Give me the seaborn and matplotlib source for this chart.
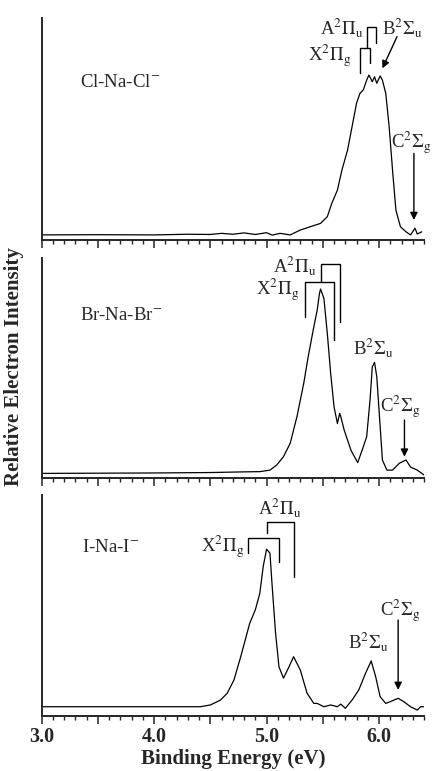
import matplotlib
matplotlib.use("Agg")
import matplotlib.pyplot as plt
from matplotlib.ticker import MultipleLocator, FuncFormatter
import seaborn as sns
import pandas as pd

# spectra (binding energy in eV, relative intensity)
cl_ev = [3.00, 3.50, 4.00, 4.30, 4.50, 4.60, 4.70, 4.80, 4.90, 5.00, 5.05, 5.12,
         5.21, 5.30, 5.39, 5.48, 5.54, 5.58, 5.63, 5.67, 5.72, 5.76, 5.80, 5.83,
         5.86, 5.89, 5.91, 5.94, 5.96, 5.98, 6.01, 6.03, 6.06, 6.09, 6.12, 6.15,
         6.19, 6.24, 6.28, 6.32, 6.34, 6.38]
cl_int = [0.023, 0.024, 0.023, 0.026, 0.025, 0.030, 0.026, 0.032, 0.025, 0.033,
          0.022, 0.030, 0.023, 0.045, 0.060, 0.075, 0.105, 0.165, 0.225, 0.315,
          0.405, 0.510, 0.616, 0.660, 0.676, 0.720, 0.743, 0.713, 0.735, 0.706,
          0.739, 0.720, 0.660, 0.510, 0.315, 0.135, 0.060, 0.037, 0.023, 0.053,
          0.027, 0.037]

br_ev = [3.00, 3.50, 4.00, 4.50, 4.80, 4.94, 5.03, 5.09, 5.15, 5.21, 5.27, 5.33,
         5.37, 5.42, 5.45, 5.47, 5.48, 5.51, 5.54, 5.57, 5.60, 5.63, 5.65, 5.66,
         5.69, 5.75, 5.81, 5.85, 5.89, 5.92, 5.94, 5.96, 5.98, 6.00, 6.03, 6.07,
         6.12, 6.18, 6.24, 6.28, 6.34, 6.40]
br_int = [0.021, 0.022, 0.023, 0.025, 0.028, 0.029, 0.036, 0.059, 0.097, 0.158,
          0.279, 0.430, 0.552, 0.688, 0.764, 0.839, 0.860, 0.817, 0.658, 0.476,
          0.324, 0.248, 0.294, 0.279, 0.218, 0.127, 0.070, 0.127, 0.188, 0.355,
          0.506, 0.526, 0.461, 0.309, 0.082, 0.036, 0.036, 0.067, 0.082, 0.050,
          0.036, 0.014]

i_ev = [3.00, 3.50, 4.00, 4.41, 4.50, 4.59, 4.65, 4.71, 4.77, 4.85, 4.90, 4.94,
        4.97, 5.00, 5.03, 5.05, 5.08, 5.11, 5.15, 5.20, 5.24, 5.30, 5.36, 5.42,
        5.45, 5.51, 5.57, 5.63, 5.66, 5.70, 5.76, 5.82, 5.88, 5.93, 5.97, 6.01,
        6.06, 6.10, 6.17, 6.22, 6.28, 6.34, 6.37, 6.40]
i_int = [0.042, 0.042, 0.042, 0.042, 0.050, 0.072, 0.103, 0.163, 0.268, 0.419,
         0.480, 0.555, 0.676, 0.754, 0.736, 0.585, 0.374, 0.223, 0.171, 0.223,
         0.268, 0.208, 0.103, 0.057, 0.057, 0.042, 0.050, 0.042, 0.054, 0.035,
         0.072, 0.118, 0.193, 0.249, 0.178, 0.087, 0.057, 0.065, 0.080, 0.065,
         0.042, 0.027, 0.042, 0.042]

names = ["Cl-Na-Cl$^{-}$", "Br-Na-Br$^{-}$", "I-Na-I$^{-}$"]
# spin-orbit components marked with brackets (eV)
x_states = [(5.83, 5.92), (5.345, 5.597), (4.834, 5.107)]
a_states = [(5.89, 5.97), (5.484, 5.65), (5.003, 5.24)]
b_state = [6.03, None, None]
c_state = [6.31, 6.226, 6.17]

sns.set_style("ticks")
plt.rcParams["font.family"] = ["Liberation Serif", "DejaVu Serif"]
plt.rcParams["mathtext.fontset"] = "stix"

fig = plt.figure(figsize=(4.34, 7.71), dpi=100)
boxes = [[0.096, 0.6887, 0.881, 0.288],
         [0.096, 0.380, 0.881, 0.285],
         [0.096, 0.0713, 0.881, 0.287]]
axes = [fig.add_axes(b) for b in boxes]

spectra = [(cl_ev, cl_int), (br_ev, br_int), (i_ev, i_int)]
for ax, (ev, inten) in zip(axes, spectra):
    df = pd.DataFrame({"ev": ev, "intensity": inten})
    sns.lineplot(data=df, x="ev", y="intensity", ax=ax, color="black",
                 lw=0.9, estimator=None)
    ax.set_xlim(3.0, 6.4)
    ax.set_ylim(0, 1)
    ax.set_xlabel("")
    ax.set_ylabel("")
    ax.set_yticks([])
    for s in ["top", "right"]:
        ax.spines[s].set_visible(False)
    ax.spines["left"].set_linewidth(1.4)
    ax.spines["bottom"].set_linewidth(1.4)
    ax.xaxis.set_major_locator(MultipleLocator(0.5))
    ax.xaxis.set_minor_locator(MultipleLocator(0.1))
    ax.tick_params(axis="x", which="major", length=5.5, width=1.1,
                   direction="out", pad=2.5)
    ax.tick_params(axis="x", which="minor", length=3.2, width=1.0,
                   direction="out")
    ax.xaxis.set_major_formatter(FuncFormatter(lambda v, p: ""))

axes[2].xaxis.set_major_formatter(FuncFormatter(
    lambda v, p: f"{v:.1f}" if abs(v - round(v)) < 1e-6 else ""))
axes[2].tick_params(axis="x", labelsize=14.5)
for lab in axes[2].get_xticklabels():
    lab.set_fontweight("bold")
axes[2].set_xlabel("Binding Energy (eV)", fontsize=15, fontweight="bold",
                   labelpad=1)

fig.text(0.033, 0.524, "Relative Electron Intensity", rotation=90,
         fontsize=15, fontweight="bold", ha="center", va="center")

fs = 13.5
lw_b = 1.0

def bracket(ax, xs, top, bl, br):
    ax.plot([xs[0], xs[0], xs[1], xs[1]], [bl, top, top, br],
            color="black", lw=lw_b, solid_joinstyle="miter")

def arrow(ax, x0, y0, x1, y1):
    ax.annotate("", xy=(x1, y1), xytext=(x0, y0),
                arrowprops=dict(arrowstyle="-|>", color="black", lw=1.0,
                                mutation_scale=11, shrinkA=0, shrinkB=0))

# Cl panel
ax = axes[0]
ax.text(3.34, 0.71, names[0], fontsize=fs, ha="left", va="center")
bracket(ax, x_states[0], 0.863, 0.754, 0.797)
bracket(ax, a_states[0], 0.961, 0.863, 0.886)
ax.text(5.86, 0.955, r"A$^2\Pi_\mathrm{u}$", fontsize=fs, ha="right", va="center")
ax.text(5.75, 0.83, r"X$^2\Pi_\mathrm{g}$", fontsize=fs, ha="right", va="center")
ax.text(6.03, 0.955, r"B$^2\Sigma_\mathrm{u}$", fontsize=fs, ha="left", va="center")
arrow(ax, 6.16, 0.916, b_state[0], 0.773)
ax.text(6.465, 0.437, r"C$^2\Sigma_\mathrm{g}$", fontsize=fs, ha="right", va="center")
arrow(ax, c_state[0], 0.39, c_state[0], 0.09)

# Br panel
ax = axes[1]
ax.text(3.34, 0.738, names[1], fontsize=fs, ha="left", va="center")
bracket(ax, x_states[1], 0.892, 0.733, 0.627)
bracket(ax, a_states[1], 0.976, 0.892, 0.710)
ax.text(5.44, 0.968, r"A$^2\Pi_\mathrm{u}$", fontsize=fs, ha="right", va="center")
ax.text(5.29, 0.855, r"X$^2\Pi_\mathrm{g}$", fontsize=fs, ha="right", va="center")
ax.text(5.772, 0.595, r"B$^2\Sigma_\mathrm{u}$", fontsize=fs, ha="left", va="center")
ax.text(6.012, 0.323, r"C$^2\Sigma_\mathrm{g}$", fontsize=fs, ha="left", va="center")
arrow(ax, c_state[1], 0.264, c_state[1], 0.097)

# I panel
ax = axes[2]
ax.text(3.356, 0.762, names[2], fontsize=fs, ha="left", va="center")
bracket(ax, x_states[2], 0.804, 0.736, 0.698)
bracket(ax, a_states[2], 0.879, 0.827, 0.630)
ax.text(5.113, 0.941, r"A$^2\Pi_\mathrm{u}$", fontsize=fs, ha="center", va="center")
ax.text(4.80, 0.766, r"X$^2\Pi_\mathrm{g}$", fontsize=fs, ha="right", va="center")
ax.text(5.728, 0.335, r"B$^2\Sigma_\mathrm{u}$", fontsize=fs, ha="left", va="center")
ax.text(6.012, 0.475, r"C$^2\Sigma_\mathrm{g}$", fontsize=fs, ha="left", va="center")
arrow(ax, c_state[2], 0.434, c_state[2], 0.118)

fig.savefig("out.png", dpi=100)
